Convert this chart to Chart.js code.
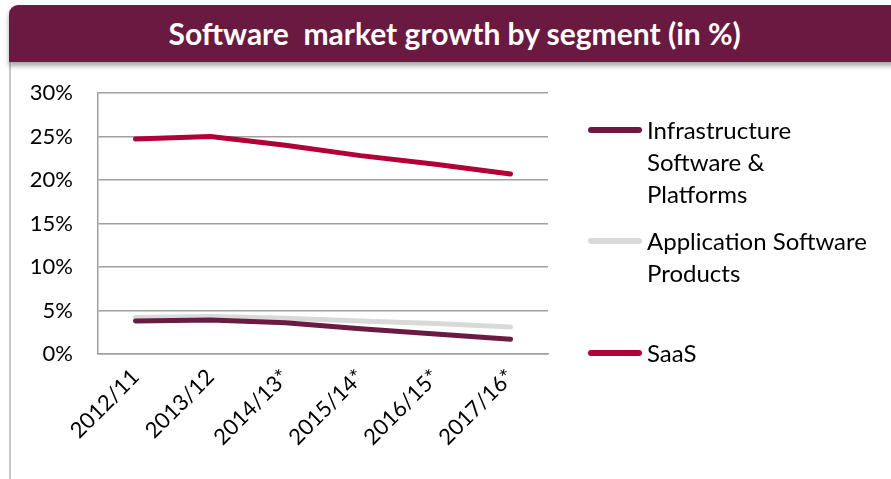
<!DOCTYPE html>
<html>
<head>
<meta charset="utf-8">
<script src="https://cdn.jsdelivr.net/npm/chart.js@4/dist/chart.umd.min.js"></script>
<style>
  html, body { margin: 0; padding: 0; background: #fff; }
  body { width: 891px; height: 479px; position: relative; overflow: hidden; font-family: Lato, "Open Sans", sans-serif; }
  #panel { position: absolute; left: 9px; top: 40px; width: 890px; height: 460px; border-left: 2px solid #c8c8c8; }
  #titlebar { position: absolute; left: 9px; top: 5px; width: 900px; height: 57px; background: #6a1a41;
    border-top-left-radius: 9px; box-shadow: 0 4px 5px rgba(0,0,0,0.35); }
  #title { position: absolute; left: 9px; top: 5px; width: 900px; height: 57px; line-height: 57px; text-align: center;
    color: #fff; font-weight: bold; font-size: 30px; white-space: pre; }
  #titletext { position: absolute; left: 160px; top: 0; }
  #chart { position: absolute; left: 0; top: 0; }
  .lg { position: absolute; left: 588px; font-size: 24px; color: #000; white-space: pre-line; line-height: 32px; }
  .lg .sw { position: absolute; left: 0; top: 13px; width: 54px; height: 6px; border-radius: 3px; }
  .lg .tx { position: absolute; left: 59px; top: 0; width: 300px; }
</style>
</head>
<body>
<div id="panel"></div>
<div id="titlebar"></div>
<div id="title"><span id="titletext">Software  market growth by segment (in %)</span></div>
<canvas id="chart" width="891" height="479"></canvas>
<div id="legend"></div>
<script>
const categories = ["2012/11", "2013/12", "2014/13*", "2015/14*", "2016/15*", "2017/16*"];
const seriesNames = ["Infrastructure Software & Platforms", "Application Software Products", "SaaS"];
const legendLabels = ["Infrastructure\nSoftware &\nPlatforms", "Application Software\nProducts", "SaaS"];
const infrastructure = [3.8, 3.9, 3.6, 2.9, 2.3, 1.7];
const application = [4.2, 4.3, 4.1, 3.8, 3.5, 3.1];
const saas = [24.7, 25.0, 24.0, 22.8, 21.8, 20.7];
const yTicks = [0, 5, 10, 15, 20, 25, 30];

const colors = ["#6b1a42", "#d9d9d9", "#b00037"];
const values = [infrastructure, application, saas];
const legendTops = [114, 225, 337];

const FONT = "Lato, 'Open Sans', sans-serif";

const chart = new Chart(document.getElementById('chart'), {
  type: 'line',
  data: {
    labels: categories,
    datasets: seriesNames.map((n, i) => ({
      label: n,
      data: values[i],
      borderColor: colors[i],
      backgroundColor: colors[i],
      borderWidth: 5,
      borderCapStyle: 'round',
      borderJoinStyle: 'round',
      pointRadius: 0,
      tension: 0,
      fill: false,
      order: i === 1 ? 3 : (i === 0 ? 2 : 1)
    }))
  },
  options: {
    responsive: false,
    devicePixelRatio: 1,
    animation: false,
    layout: { padding: { left: 0, right: 343, top: 93, bottom: 0 } },
    plugins: { legend: { display: false }, title: { display: false }, tooltip: { enabled: false } },
    scales: {
      x: {
        offset: true,
        grid: { display: false, drawTicks: false },
        border: { display: true, color: '#a0a0a0', width: 1.5 },
        ticks: { color: '#000', font: { family: FONT, size: 22 }, maxRotation: 45, minRotation: 45, padding: 10, autoSkip: false },
        afterFit: s => { s.height = 125; }
      },
      y: {
        min: 0, max: 30,
        afterBuildTicks: s => { s.ticks = yTicks.map(v => ({ value: v })); },
        grid: { color: '#a0a0a0', lineWidth: 1.5, drawTicks: false },
        border: { display: true, color: '#a0a0a0', width: 1.5 },
        ticks: { color: '#000', font: { family: FONT, size: 22 }, padding: 25, callback: v => v + '%' },
        afterFit: s => { s.width = 98; }
      }
    }
  }
});

const lg = document.getElementById('legend');
seriesNames.forEach((n, i) => {
  const d = document.createElement('div');
  d.className = 'lg';
  d.style.top = legendTops[i] + 'px';
  const sw = document.createElement('div');
  sw.className = 'sw';
  sw.style.background = colors[i];
  const tx = document.createElement('div');
  tx.className = 'tx';
  tx.textContent = legendLabels[i];
  d.appendChild(sw); d.appendChild(tx);
  lg.appendChild(d);
});
const tt = document.getElementById('titletext');
tt.style.left = (454.5 - 9 - tt.offsetWidth / 2) + 'px';
</script>
</body>
</html>
